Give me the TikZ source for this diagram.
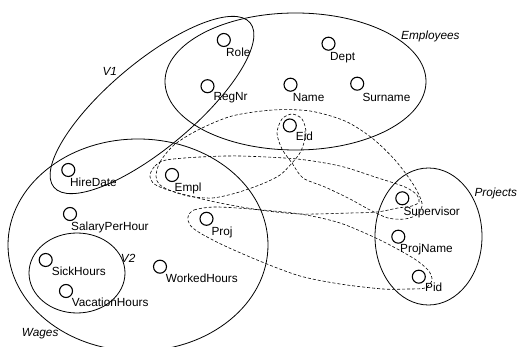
\documentclass[tikz,border=0pt]{standalone}
\usepackage{fontspec}
\setmainfont{Liberation Sans}

\begin{document}
\begin{tikzpicture}[x=1pt, y=-1pt,
	attr/.style={circle, draw, line width=1.1pt, minimum size=13pt, inner sep=0pt},
	attrname/.style={anchor=base west, inner sep=0pt, font=\fontsize{11.8}{13}\selectfont},
	setname/.style={anchor=base west, inner sep=0pt, font=\fontsize{11.8}{13}\selectfont\itshape},
	group/.style={line width=0.8pt},
	fkloop/.style={line width=0.6pt, dash pattern=on 3pt off 2pt}]
	\useasboundingbox (0,0) rectangle (517,347);

% draw relations and views
	\draw[group] (295.5,81.5) ellipse [x radius=130.5, y radius=68.5];
	\draw[group] (138,245) ellipse [x radius=130, y radius=106];
	\draw[group] (428.5,236.5) ellipse [x radius=53.5, y radius=68.5];
	\draw[group] (77,273) ellipse [x radius=48, y radius=40];
	\draw[group, rotate around={40:(152,105)}] (152,105) ellipse [x radius=128, y radius=43];

	\node[setname] (employees) at (401,40) {Employees};
	\node[setname] (wages) at (21.7,336.7) {Wages};
	\node[setname] (projects) at (474.3,196.7) {Projects};
	\node[setname] (v1) at (102.3,76) {V1};
	\node[setname] (v2) at (120.7,262.3) {V2};

% foreign key loops
	\draw[fkloop] plot[smooth cycle] coordinates {
		(188,217) (194,210) (215,207) (250,209) (300,214) (340,223) (380,240)
		(413,258) (428,270) (432,280) (425,288) (408,289) (383,289) (340,284)
		(300,276) (262,262) (225,246) (200,233) (190,225)};

	\draw[fkloop] plot[smooth cycle] coordinates {
		(150,175) (155,166) (166,160) (200,157) (240,156) (297,159) (340,166)
		(375,177) (405,187) (417,195) (419,202) (412,206) (398,208) (377,212)
		(350,213) (300,214) (260,210) (220,203) (190,196) (165,189) (153,183)};

	\draw[fkloop] plot[smooth cycle] coordinates {
		(156,176) (160,162) (174,145) (198,130) (232,116) (273,110) (310,111)
		(345,121) (372,138) (395,160) (413,184) (422,203) (418,214) (405,219)
		(388,218) (370,210) (350,199) (325,187) (303,178) (292,163) (282,149)
		(277,133) (282,119) (292,114) (302,119) (306,133) (301,151) (292,163)
		(280,175) (262,184) (236,193) (212,198) (188,196) (169,190) (159,184)};

% attributes
	\foreach \n/\cx/\cy/\lx/\ly/\t in {
		role/223.8/40/226/56.6/Role,
		dept/328.5/43.7/330/60.3/Dept,
		regnr/207.5/86.2/213.3/101/RegNr,
		name/290.5/84.7/292.7/101.6/Name,
		surname/357.2/83.7/362.3/101.6/Surname,
		eid/289.8/125.5/295.7/141/Eid,
		hiredate/68.3/170/70/187/HireDate,
		empl/172/175/174.5/191.5/Empl,
		salary/70/214/71/231/SalaryPerHour,
		proj/206.5/218.8/211.3/235.5/Proj,
		sick/45.7/260/51.7/276/SickHours,
		vacation/66/291/71.7/307/VacationHours,
		worked/160/266.7/165.7/282.6/WorkedHours,
		supervisor/402.3/198.3/403.3/215.5/Supervisor,
		projname/398.3/236.7/400/252.6/ProjName,
		pid/418.8/276.7/425/291.6/Pid}
	{
		\node[attr] (\n) at (\cx,\cy) {};
		\node[attrname] (\n-name) at (\lx,\ly) {\t};
	}

\end{tikzpicture}
\end{document}
